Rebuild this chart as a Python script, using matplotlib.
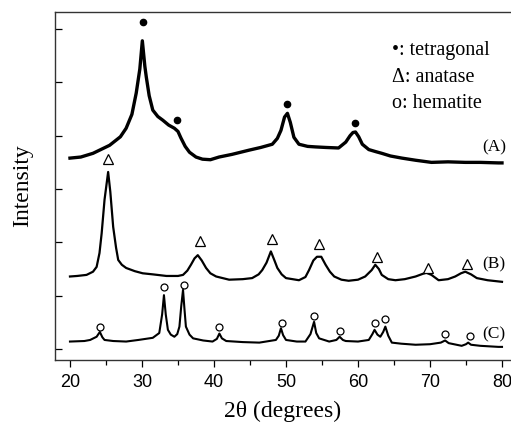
import matplotlib
matplotlib.use("Agg")
import matplotlib.pyplot as plt
from matplotlib.ticker import MultipleLocator

# ---- data (2theta in degrees, intensity in offset units) ----
a_theta = [20, 21.5, 23.2, 25.5, 27, 27.8, 28.6, 29.2, 29.7, 30.05, 30.4, 30.6, 31.0, 31.5,
           32.2, 32.9, 33.7, 34.5, 35.0, 35.4, 36.0, 36.6, 37.5, 38.4, 39.5, 40.7, 42.5,
           44.9, 46.5, 48.1, 48.8, 49.3, 49.8, 50.2, 50.6, 51.1, 51.8, 53, 54.1, 55.5,
           57.3, 58.3, 58.9, 59.3, 59.65, 60.1, 60.6, 61.5, 62.5, 63.3, 64.5, 66.1, 68,
           70.2, 72.5, 74.9, 77, 79.5, 80]
a_int = [3.58, 3.60, 3.67, 3.82, 3.98, 4.14, 4.40, 4.80, 5.25, 5.78, 5.30, 5.10, 4.75, 4.48,
         4.36, 4.29, 4.20, 4.14, 4.08, 3.96, 3.80, 3.69, 3.60, 3.56, 3.55, 3.60, 3.65,
         3.73, 3.78, 3.84, 3.95, 4.10, 4.35, 4.42, 4.25, 3.97, 3.84, 3.80, 3.79, 3.78,
         3.77, 3.88, 4.00, 4.06, 4.07, 3.98, 3.84, 3.74, 3.70, 3.67, 3.62, 3.58, 3.54,
         3.50, 3.51, 3.50, 3.50, 3.49, 3.49]

b_theta = [20, 21, 22.3, 23.2, 23.7, 24.1, 24.4, 24.8, 25.3, 25.6, 26.0, 26.4, 26.7, 27.2,
           27.8, 29, 30.1, 31.5, 33.4, 35.0, 35.7, 36.3, 36.8, 37.3, 37.75, 38.3, 38.9,
           39.5, 40.3, 42.1, 44, 45.3, 46.2, 46.7, 47.3, 47.9, 48.4, 48.8, 49.4, 50, 51.8,
           52.7, 53.2, 53.8, 54.3, 54.9, 55.5, 56.1, 56.7, 57.7, 58.7, 60, 61, 61.9, 62.4,
           62.9, 63.3, 64.2, 65.2, 66.5, 68, 69, 69.5, 70.2, 71.2, 72.5, 73.5, 74.3, 74.9,
           75.7, 76.5, 78, 80]
b_int = [1.36, 1.37, 1.39, 1.45, 1.54, 1.80, 2.17, 2.80, 3.32, 2.95, 2.29, 1.90, 1.67, 1.58,
         1.52, 1.46, 1.42, 1.40, 1.37, 1.37, 1.39, 1.47, 1.58, 1.70, 1.76, 1.66, 1.52,
         1.42, 1.36, 1.30, 1.31, 1.33, 1.40, 1.48, 1.62, 1.83, 1.66, 1.52, 1.40, 1.33, 1.29,
         1.35, 1.48, 1.66, 1.73, 1.73, 1.58, 1.45, 1.36, 1.30, 1.28, 1.30, 1.36, 1.48, 1.58,
         1.50, 1.39, 1.31, 1.29, 1.31, 1.36, 1.41, 1.43, 1.39, 1.29, 1.31, 1.36, 1.42, 1.45,
         1.40, 1.33, 1.29, 1.26]

c_theta = [20, 22, 22.8, 23.7, 24.15, 24.5, 24.8, 26, 27.8, 29.5, 31.5, 32.4, 32.8, 33.05,
           33.3, 33.6, 34.0, 34.5, 34.9, 35.2, 35.45, 35.7, 35.9, 36.1, 36.6, 37.1, 38.5,
           39.8, 40.4, 40.75, 41.1, 41.7, 44, 46.3, 48.6, 49.0, 49.3, 49.6, 50, 51.5, 52.7,
           53.4, 53.9, 54.2, 54.6, 56, 57.0, 57.45, 57.9, 58.3, 60, 61.5, 62.0, 62.3, 62.7,
           63.1, 63.5, 63.8, 64.2, 64.7, 66, 68, 70, 71.5, 72.1, 72.6, 74.4, 75.0, 75.3,
           75.7, 77, 79.5, 80]
c_int = [0.14, 0.15, 0.17, 0.23, 0.32, 0.22, 0.17, 0.15, 0.14, 0.17, 0.21, 0.30, 0.65, 1.01,
         0.65, 0.36, 0.27, 0.23, 0.28, 0.42, 0.80, 1.11, 0.75, 0.42, 0.27, 0.20, 0.16,
         0.14, 0.19, 0.29, 0.20, 0.15, 0.13, 0.12, 0.17, 0.25, 0.39, 0.26, 0.17, 0.14, 0.14,
         0.28, 0.51, 0.30, 0.20, 0.14, 0.17, 0.23, 0.17, 0.15, 0.14, 0.17, 0.28, 0.36, 0.27,
         0.23, 0.32, 0.42, 0.25, 0.12, 0.10, 0.08, 0.09, 0.12, 0.16, 0.11, 0.06, 0.09, 0.12,
         0.08, 0.06, 0.04, 0.04]

tetragonal_pos = [30.1, 34.8, 50.2, 59.6]
tetragonal_y = [6.13, 4.29, 4.59, 4.24]
anatase_pos = [25.3, 38.0, 48.1, 54.6, 62.6, 69.7, 75.1]
anatase_y = [3.57, 2.03, 2.07, 1.96, 1.73, 1.51, 1.60]
hematite_pos = [24.2, 33.05, 35.8, 40.75, 49.4, 53.9, 57.5, 62.3, 63.8, 72.1, 75.6]
hematite_y = [0.42, 1.17, 1.20, 0.42, 0.49, 0.61, 0.33, 0.48, 0.57, 0.28, 0.25]

curve_labels = ["(A)", "(B)", "(C)"]
curve_label_y = [3.79, 1.58, 0.28]
legend_lines = ["\u2022: tetragonal", "\u0394: anatase", "o: hematite"]
x_ticks = [20, 30, 40, 50, 60, 70, 80]

serif = ["Liberation Serif", "DejaVu Serif"]
sans = ["Liberation Sans", "DejaVu Sans"]

W, H = 511, 422
fig = plt.figure(figsize=(W / 100, H / 100), dpi=100)
ax = fig.add_axes([55 / W, 1 - 360 / H, 1 - 55 / W, (360 - 12) / H])

ax.plot(a_theta, a_int, color="black", lw=2.4, solid_joinstyle="round")
ax.plot(b_theta, b_int, color="black", lw=1.6, solid_joinstyle="round")
ax.plot(c_theta, c_int, color="black", lw=1.5, solid_joinstyle="round")

ax.plot(tetragonal_pos, tetragonal_y, ls="none", marker="o", ms=4.5, mfc="black", mec="black")
ax.plot(anatase_pos, anatase_y, ls="none", marker="^", ms=7, mfc="white", mec="black", mew=0.9)
ax.plot(hematite_pos, hematite_y, ls="none", marker="o", ms=5, mfc="white", mec="black", mew=0.9)

for lab, yy in zip(curve_labels, curve_label_y):
    ax.text(78.9, yy, lab, ha="center", va="center", fontsize=12.5, family=serif)

legend_y_px = [50, 77, 103]
for t, ypx in zip(legend_lines, legend_y_px):
    fig.text(392 / W, 1 - ypx / H, t, fontsize=14.5, family=serif, ha="left", va="center")

ax.set_xlim(17.92, 81.25)
ax.set_ylim(-0.206, 6.32)
ax.set_xticks(x_ticks)
ax.xaxis.set_minor_locator(MultipleLocator(5))
ax.set_yticks(range(7))
ax.set_yticklabels([])
ax.tick_params(axis="x", which="major", direction="out", length=5, width=0.9, labelsize=13,
               pad=5)
ax.tick_params(axis="x", which="minor", direction="out", length=3.5, width=0.9)
ax.tick_params(axis="y", direction="in", length=5, width=0.9)
for lbl in ax.get_xticklabels():
    lbl.set_family(sans)

for s in ["left", "bottom", "top"]:
    ax.spines[s].set_linewidth(1.0)
    ax.spines[s].set_color("#333333")
ax.spines["right"].set_visible(False)

ax.set_xlabel("2\u03b8 (degrees)", fontsize=17, family=serif, labelpad=7)
ax.set_ylabel("Intensity", fontsize=17, family=serif, labelpad=12)

fig.savefig("out.png", dpi=100)
